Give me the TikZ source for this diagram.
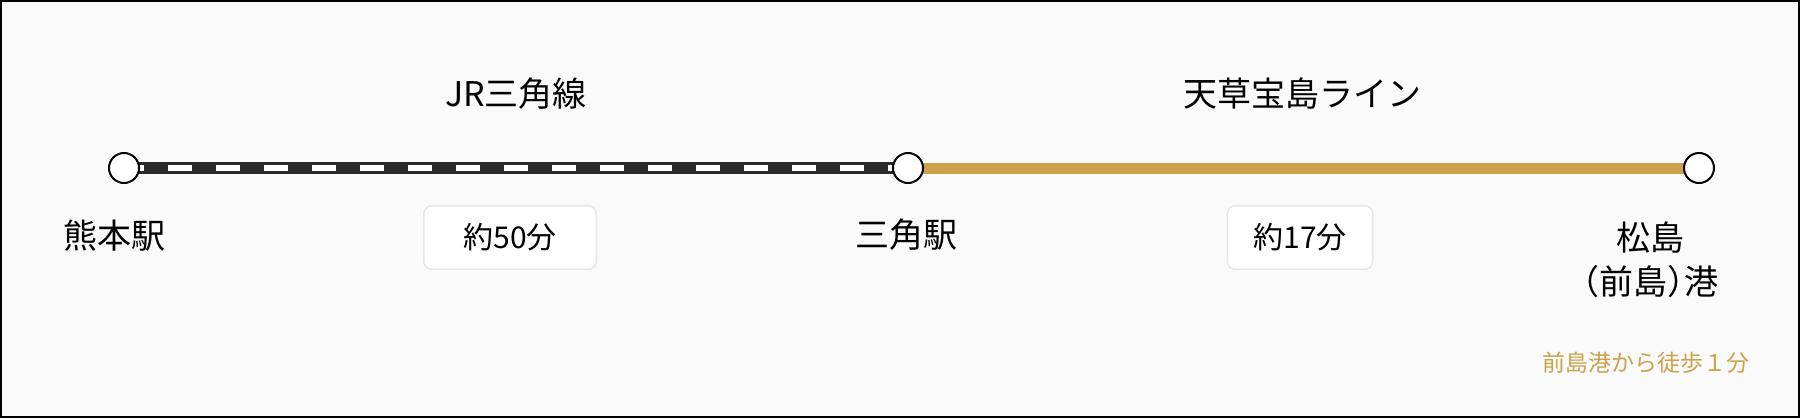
\documentclass[tikz,border=0pt]{standalone}
\usepackage{fontspec}
\setmainfont{Noto Sans CJK JP}
\usetikzlibrary{backgrounds}
\definecolor{bgcol}{HTML}{FAFAFA}
\definecolor{gold}{HTML}{CBA24B}
\definecolor{rail}{HTML}{2A2A2A}
\definecolor{boxline}{HTML}{E6E6E6}
\begin{document}
\begin{tikzpicture}[x=1pt,y=-1pt,
  station/.style={circle, draw=black, line width=2pt, fill=white, minimum size=30pt, inner sep=0pt},
  lbl/.style={font=\fontsize{34}{44}\selectfont, inner sep=0pt, align=center},
  timebox/.style={draw=boxline, line width=1.5pt, fill=white, rounded corners=8pt, minimum height=63.5pt, inner sep=0pt, font=\fontsize{30}{36}\selectfont},
  note/.style={font=\fontsize{23}{28}\selectfont, text=gold, inner sep=0pt}
]
\useasboundingbox (0,0) rectangle (1800,418);
% stations
\node[station] (kuma) at (124,168) {};
\node[station] (misumi) at (908,168) {};
\node[station] (matsu) at (1699,168) {};
% lines beneath
\begin{pgfonlayer}{background}
\fill[bgcol] (0,0) rectangle (1800,418);
\draw[rail, line width=12pt] (kuma.center) -- (misumi.center);
\draw[white, line width=6pt, dash pattern=on 24pt off 24pt, dash phase=4pt] (kuma.center) -- (misumi.center);
\draw[gold, line width=11pt] (misumi.center) -- (matsu.center);
\end{pgfonlayer}
% line names
\node[lbl] (jr) at (516,93.5) {JR三角線};
\node[lbl] (amakusa) at (1302,94) {天草宝島ライン};
% station labels
\node[lbl] (kumalbl) at (114,236) {熊本駅};
\node[lbl] (misumilbl) at (906,235) {三角駅};
\node[lbl] (matsulbl) at (1650,260) {松島\\\kern-0.5em（前島）\kern-0.5em港};
% time boxes
\node[timebox, minimum width=172.5pt] (t1) at (510,237.5) {約50分};
\node[timebox, minimum width=145.5pt] (t2) at (1300,237.5) {約17分};
% note
\node[note, anchor=east] (walk) at (1750,363) {前島港から徒歩１分};
% frame
\draw[line width=2pt, draw=black] (1,1) rectangle (1799,417);
\end{tikzpicture}
\end{document}
